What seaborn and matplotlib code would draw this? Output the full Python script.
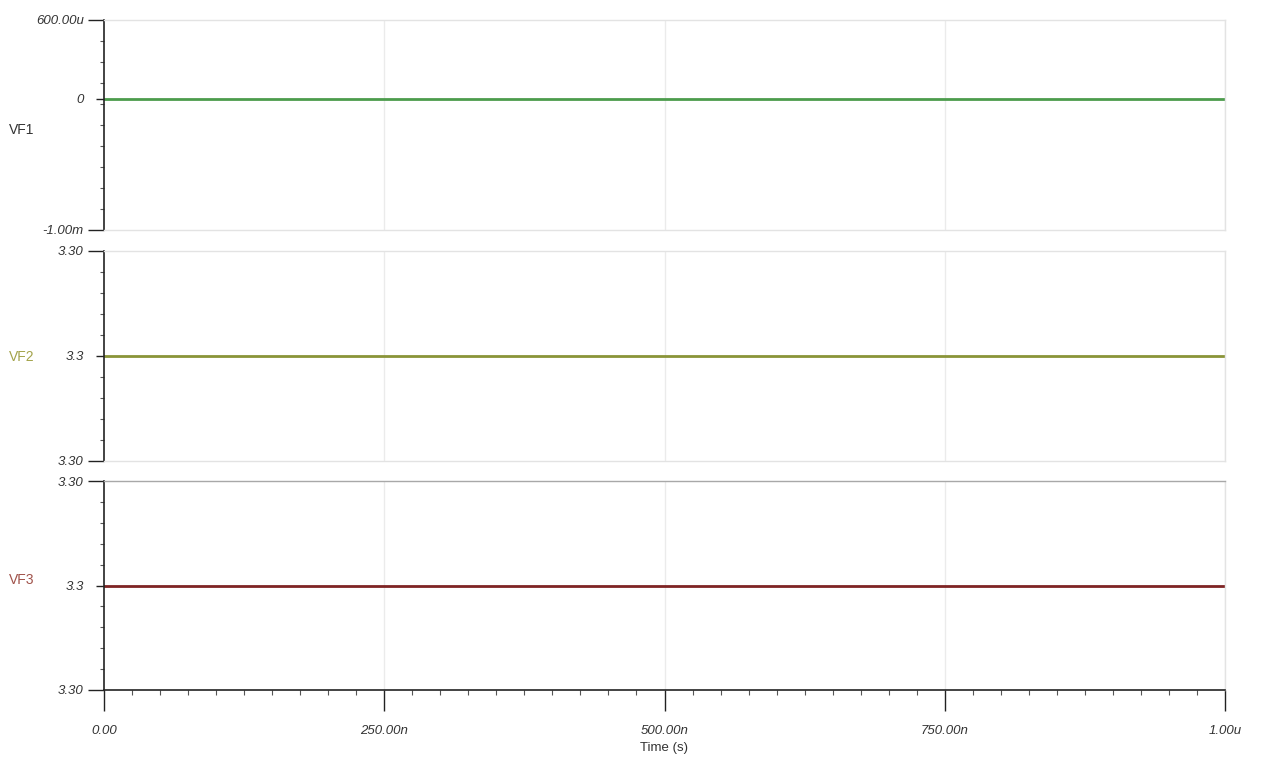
import numpy as np
import pandas as pd
import matplotlib
matplotlib.use("Agg")
import matplotlib.pyplot as plt
import seaborn as sns
from matplotlib.ticker import MultipleLocator, FixedLocator

# transient sim output, all three nodes flat over 0..1us
time_s = [0.0, 1e-6]
vf1 = [0.0, 0.0]
vf2 = [3.3, 3.3]
vf3 = [3.3, 3.3]

names = ["VF1", "VF2", "VF3"]
line_colors = ["#4c9c4c", "#8a9438", "#7e2424"]
name_colors = ["#333333", "#a3a34a", "#a0524a"]

ylims = [(-1e-3, 600e-6), (3.3 - 1e-4, 3.3 + 1e-4), (3.3 - 1e-4, 3.3 + 1e-4)]
ytick_vals = [[-1e-3, 0.0, 600e-6], [3.3 - 1e-4, 3.3, 3.3 + 1e-4], [3.3 - 1e-4, 3.3, 3.3 + 1e-4]]
ytick_text = [["-1.00m", "0", "600.00u"], ["3.30", "3.3", "3.30"], ["3.30", "3.3", "3.30"]]
xtick_vals = [0.0, 250e-9, 500e-9, 750e-9, 1e-6]
xtick_text = ["0.00", "250.00n", "500.00n", "750.00n", "1.00u"]

sns.set_style("white")
plt.rcParams['font.family'] = ['Liberation Sans Narrow', 'Liberation Sans', 'DejaVu Sans']

fig = plt.figure(figsize=(12.61, 7.63), dpi=100)
W, H = 1261, 763
left, right = 104, 1225
panels = [(20, 230), (251, 461), (481, 690)]

df = pd.DataFrame({"t": time_s, "VF1": vf1, "VF2": vf2, "VF3": vf3})

axes = []
for i, (top, bot) in enumerate(panels):
    ax = fig.add_axes([left / W, 1 - bot / H, (right - left) / W, (bot - top) / H])
    sns.lineplot(data=df, x="t", y=names[i], ax=ax, color=line_colors[i], lw=2)
    ax.set_xlim(0, 1e-6)
    ax.set_ylim(*ylims[i])
    ax.set_xlabel("")
    ax.set_ylabel("")

    # vertical grid at the major time ticks
    for xv in xtick_vals[1:]:
        ax.axvline(xv, color="#ebebeb", lw=1, zorder=0)

    for s in ["top", "right", "bottom"]:
        ax.spines[s].set_color("#e3e3e3")
        ax.spines[s].set_linewidth(1)
    ax.spines["left"].set_color("#222222")
    ax.spines["left"].set_linewidth(1.2)

    ax.set_yticks(ytick_vals[i])
    ax.set_yticklabels(ytick_text[i], fontstyle="italic", fontsize=9.5, color="#333333")
    lo, hi = ylims[i]
    ax.yaxis.set_minor_locator(FixedLocator(np.linspace(lo, hi, 11)))
    ax.tick_params(axis="y", which="both", left=True, direction="out")
    ax.tick_params(axis="y", which="major", length=11.5, width=1, color="#222222", pad=3)
    ax.tick_params(axis="y", which="minor", length=3, width=0.8, color="#555555")
    # the middle labelled tick is shorter than the end ones
    ax.yaxis.get_major_ticks()[1].tick1line.set_markersize(6)

    fig.text(22 / W, 1 - [130, 357, 580][i] / H, names[i], color=name_colors[i],
             fontsize=10, ha="center", va="center")
    axes.append(ax)

for ax in axes[:2]:
    ax.set_xticks([])
    ax.tick_params(axis="x", which="both", length=0)

ax3 = axes[2]
ax3.spines["top"].set_color("#a8a8a8")
ax3.spines["bottom"].set_color("#222222")
ax3.spines["bottom"].set_linewidth(1.2)
ax3.set_xticks(xtick_vals)
ax3.set_xticklabels(xtick_text, fontstyle="italic", fontsize=9.5, color="#333333")
ax3.xaxis.set_minor_locator(MultipleLocator(25e-9))
ax3.tick_params(axis="x", which="both", bottom=True, direction="out")
ax3.tick_params(axis="x", which="major", length=15, width=1, color="#222222", pad=10)
ax3.tick_params(axis="x", which="minor", length=3.5, width=0.8, color="#555555")
ax3.set_xlabel("Time (s)", fontsize=9.5, color="#333333", labelpad=4)

fig.savefig("out.png", dpi=100, facecolor="white")
